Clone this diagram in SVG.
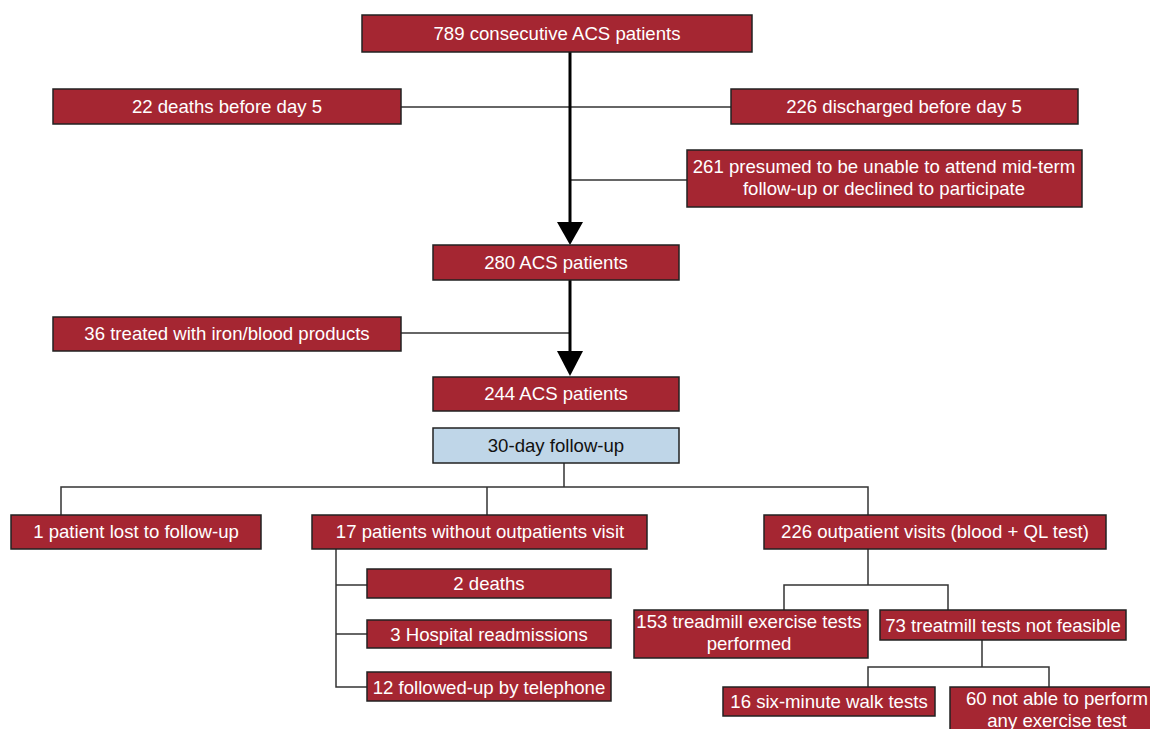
<svg xmlns="http://www.w3.org/2000/svg" width="1150" height="729" viewBox="0 0 1150 729">
<style>
.b{fill:#A52632;stroke:#222;stroke-width:1.5}
.f{fill:#BFD6E8;stroke:#222;stroke-width:1.5}
.t{font-family:"Liberation Sans",Arial,sans-serif;font-size:18.6px;fill:#fff;text-anchor:middle}
.l{fill:none;stroke:#333;stroke-width:1.5}
.k{fill:none;stroke:#000;stroke-width:3}
</style>
<rect width="1150" height="729" fill="#fff"/>
<g id="connectors">
<line class="l" x1="401" y1="107" x2="731" y2="107"/>
<line class="l" x1="570" y1="180" x2="687" y2="180"/>
<line class="k" x1="570" y1="52" x2="570" y2="224"/>
<polygon points="557,222 583,222 570,245" fill="#000"/>
<line class="l" x1="401" y1="333" x2="570" y2="333"/>
<line class="k" x1="570" y1="280" x2="570" y2="353"/>
<polygon points="557,351 583,351 570,376" fill="#000"/>
<polyline class="l" points="564,463 564,487"/>
<polyline class="l" points="61,515 61,487 868,487 868,515"/>
<line class="l" x1="487" y1="487" x2="487" y2="515"/>
<polyline class="l" points="336,549 336,687 367,687"/>
<line class="l" x1="336" y1="585" x2="367" y2="585"/>
<line class="l" x1="336" y1="634" x2="367" y2="634"/>
<line class="l" x1="868" y1="549" x2="868" y2="585"/>
<polyline class="l" points="784,610 784,585 948,585 948,610"/>
<line class="l" x1="982" y1="640" x2="982" y2="667"/>
<polyline class="l" points="868,687 868,667 1049,667 1049,687"/>
</g>
<g id="n789"><rect class="b" x="362" y="15" width="390" height="37"/><text class="t" x="557" y="40">789 consecutive ACS patients</text></g>
<g id="n22"><rect class="b" x="53" y="89" width="348" height="35"/><text class="t" x="227" y="113">22 deaths before day 5</text></g>
<g id="n226d"><rect class="b" x="731" y="89" width="347" height="35"/><text class="t" x="904" y="113">226 discharged before day 5</text></g>
<g id="n261"><rect class="b" x="687" y="150" width="395" height="57"/><text class="t" x="884" y="173">261 presumed to be unable to attend mid-term</text><text class="t" x="884" y="195">follow-up or declined to participate</text></g>
<g id="n280"><rect class="b" x="433" y="245" width="246" height="35"/><text class="t" x="556" y="269">280 ACS patients</text></g>
<g id="n36"><rect class="b" x="53" y="317" width="348" height="34"/><text class="t" x="227" y="340">36 treated with iron/blood products</text></g>
<g id="n244"><rect class="b" x="433" y="377" width="246" height="34"/><text class="t" x="556" y="400">244 ACS patients</text></g>
<g id="n30"><rect class="f" x="433" y="428" width="246" height="35"/><text class="t" x="556" y="452" style="fill:#111">30-day follow-up</text></g>
<g id="n1"><rect class="b" x="11" y="515" width="250" height="34"/><text class="t" x="136" y="538">1 patient lost to follow-up</text></g>
<g id="n17"><rect class="b" x="312" y="515" width="335" height="34"/><text class="t" x="480" y="538">17 patients without outpatients visit</text></g>
<g id="n226"><rect class="b" x="764" y="515" width="342" height="34"/><text class="t" x="935" y="538">226 outpatient visits (blood + QL test)</text></g>
<g id="n2"><rect class="b" x="367" y="569" width="244" height="29"/><text class="t" x="489" y="590">2 deaths</text></g>
<g id="n3"><rect class="b" x="367" y="620" width="244" height="28"/><text class="t" x="489" y="641">3 Hospital readmissions</text></g>
<g id="n12"><rect class="b" x="367" y="672" width="244" height="29"/><text class="t" x="489" y="694">12 followed-up by telephone</text></g>
<g id="n153"><rect class="b" x="634" y="610" width="234" height="48"/><text class="t" x="749" y="628">153 treadmill exercise tests</text><text class="t" x="749" y="650">performed</text></g>
<g id="n73"><rect class="b" x="880" y="610" width="246" height="30"/><text class="t" x="1003" y="632">73 treatmill tests not feasible</text></g>
<g id="n16"><rect class="b" x="723" y="687" width="212" height="29"/><text class="t" x="829" y="708">16 six-minute walk tests</text></g>
<g id="n60"><rect class="b" x="950" y="687" width="210" height="50"/><text class="t" x="1057" y="705">60 not able to perform</text><text class="t" x="1057" y="727">any exercise test</text></g>
</svg>
